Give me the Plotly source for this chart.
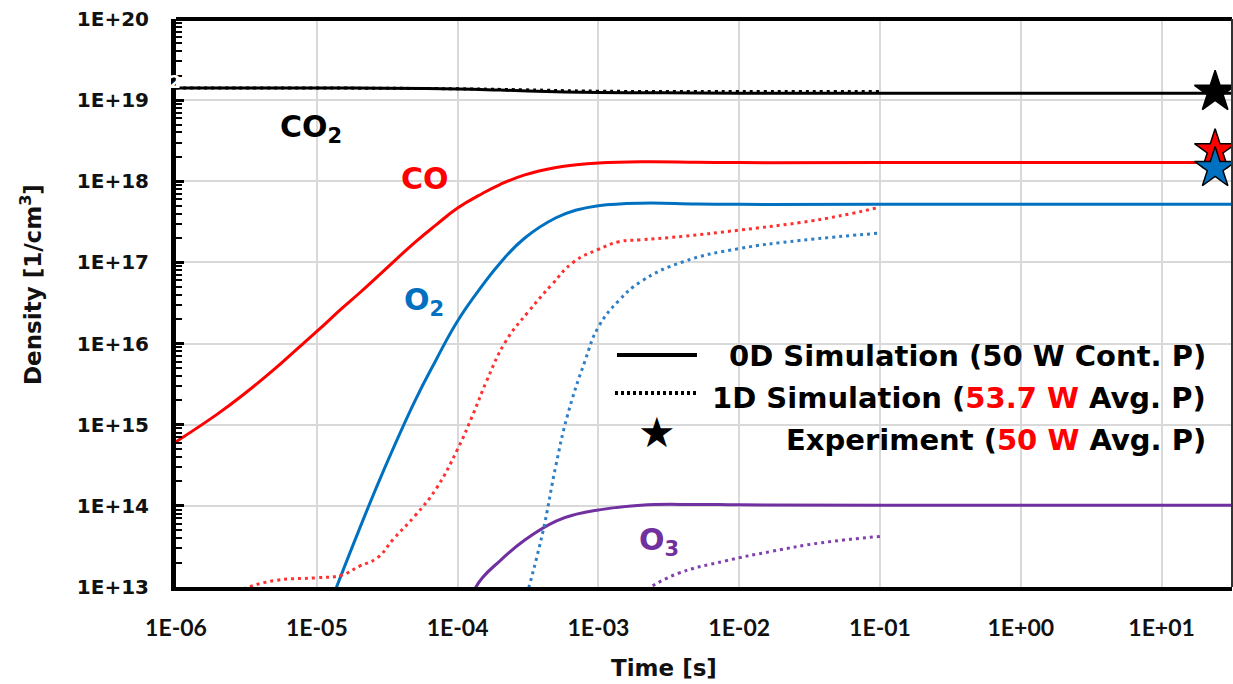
import plotly.graph_objects as go

# ---------------- data ----------------
# 0D simulation (solid)
t_co2_0d = [1e-6, 1e-5, 3e-5, 1e-4, 2e-4, 5e-4, 1e-3, 3e-3, 1e-2, 1e-1, 1, 10, 32]
co2_0d = [1.41e19, 1.41e19, 1.40e19, 1.37e19, 1.33e19, 1.27e19, 1.24e19, 1.23e19, 1.22e19, 1.22e19, 1.22e19, 1.22e19, 1.22e19]

t_co_0d = [1e-6, 2e-6, 3e-6, 5e-6, 7e-6, 1e-5, 1.5e-5, 2e-5, 3e-5, 5e-5, 7e-5, 1e-4, 1.5e-4, 2e-4, 3e-4,
           5e-4, 7e-4, 1e-3, 2e-3, 5e-3, 1e-2, 1e-1, 1, 10, 32]
co_0d = [6.17e14, 1.38e15, 2.34e15, 4.84e15, 8.13e15, 1.41e16, 2.69e16, 4.17e16, 7.94e16, 1.78e17, 2.88e17, 4.68e17,
         7.08e17, 9.12e17, 1.20e18, 1.48e18, 1.60e18, 1.68e18, 1.74e18, 1.72e18, 1.70e18, 1.70e18, 1.70e18,
         1.70e18, 1.70e18]

t_o2_0d = [1.3e-5, 2e-5, 3e-5, 5e-5, 7e-5, 1e-4, 1.5e-4, 2e-4, 3e-4, 5e-4, 7e-4, 1e-3, 2e-3, 5e-3, 1e-2,
           1e-1, 1, 10, 32]
o2_0d = [7.6e12, 5.1e13, 2.8e14, 2.0e15, 6.2e15, 1.9e16, 5.2e16, 9.8e16, 2.0e17, 3.55e17, 4.42e17, 5.0e17,
         5.37e17, 5.25e17, 5.2e17, 5.2e17, 5.2e17, 5.2e17, 5.2e17]

t_o3_0d = [1.3e-4, 1.5e-4, 2e-4, 3e-4, 5e-4, 7e-4, 1e-3, 2e-3, 5e-3, 1e-2, 1e-1, 1, 10, 32]
o3_0d = [8.9e12, 1.3e13, 2.1e13, 3.8e13, 6.5e13, 7.9e13, 8.9e13, 1.02e14, 1.04e14, 1.03e14, 1.02e14, 1.02e14,
         1.02e14, 1.02e14]

# 1D simulation (dotted)
t_co2_1d = [1e-6, 1e-5, 1e-4, 3e-4, 1e-3, 1e-2, 1e-1]
co2_1d = [1.41e19, 1.41e19, 1.38e19, 1.34e19, 1.29e19, 1.28e19, 1.28e19]

t_co_1d = [3e-6, 5e-6, 1e-5, 1.5e-5, 2e-5, 2.7e-5, 3.5e-5, 5e-5, 7e-5, 1e-4, 1.3e-4, 1.6e-4, 2.2e-4, 3.2e-4,
           4.7e-4, 6.6e-4, 1e-3, 1.4e-3, 2e-3, 4e-3, 1e-2, 2.7e-2, 5e-2, 1e-1]
co_1d = [9.5e12, 1.2e13, 1.3e13, 1.4e13, 1.8e13, 2.3e13, 3.9e13, 7.6e13, 1.6e14, 5.0e14, 1.4e15, 3.4e15, 1.07e16,
         2.5e16, 5.4e16, 1.0e17, 1.45e17, 1.8e17, 1.9e17, 2.1e17, 2.5e17, 3.1e17, 3.7e17, 4.8e17]

t_o2_1d = [3.1e-4, 4e-4, 5e-4, 6e-4, 8e-4, 1e-3, 1.4e-3, 2e-3, 4e-3, 1e-2, 2.7e-2, 1e-1]
o2_1d = [8e12, 4.5e13, 3.2e14, 1.26e15, 6e15, 1.6e16, 3.4e16, 5.8e16, 1.02e17, 1.48e17, 1.86e17, 2.3e17]

t_o3_1d = [2.2e-3, 3.6e-3, 8e-3, 1.7e-2, 3.8e-2, 1e-1]
o3_1d = [9.3e12, 1.45e13, 2.1e13, 2.75e13, 3.5e13, 4.2e13]

# Experiment (stars)
t_exp = [24, 24, 24]
exp_vals = [1.26e19, 2.4e18, 1.45e18]
exp_colors = ["#000000", "#FF0000", "#0070C0"]

# axis ticks
x_tickvals = [1e-6, 1e-5, 1e-4, 1e-3, 1e-2, 1e-1, 1, 10]
x_ticktext = ["1E-06", "1E-05", "1E-04", "1E-03", "1E-02", "1E-01", "1E+00", "1E+01"]
y_tickvals = [1e13, 1e14, 1e15, 1e16, 1e17, 1e18, 1e19, 1e20]
y_ticktext = ["1E+13", "1E+14", "1E+15", "1E+16", "1E+17", "1E+18", "1E+19", "1E+20"]

# ---------------- styling ----------------
C_CO2 = "#000000"
C_CO = "#FF0000"
C_O2 = "#0070C0"
C_O3 = "#7030A0"

W, H = 1233, 684
L, R, T, B = 176, 1, 19, 97
PW, PH = W - L - R, H - T - B


def px(xpix):
    return (xpix - L) / PW


def py(ypix):
    return (H - B - ypix) / PH


fig = go.Figure()


def add_line(t, v, color, dotted=False):
    fig.add_trace(go.Scatter(
        x=t, y=v, mode="lines",
        line=dict(color=color, width=3, dash="3px,4px" if dotted else "solid",
                  shape="spline", smoothing=1.3),
        showlegend=False, hoverinfo="skip"))


add_line(t_co2_0d, co2_0d, C_CO2)
add_line(t_co_0d, co_0d, C_CO)
add_line(t_o2_0d, o2_0d, C_O2)
add_line(t_o3_0d, o3_0d, C_O3)
add_line(t_co2_1d, co2_1d, C_CO2, True)
add_line(t_co_1d, co_1d, "#FF3030", True)
add_line(t_o2_1d, o2_1d, "#2E7FC6", True)
add_line(t_o3_1d, o3_1d, "#8040B0", True)

fig.add_trace(go.Scatter(
    x=t_exp, y=exp_vals, mode="markers",
    marker=dict(symbol="star", size=31, color=exp_colors, line=dict(color="black", width=1.5)),
    showlegend=False, hoverinfo="skip", cliponaxis=False))

label_font = "DejaVu Sans"

# species labels
species = [
    ("CO<sub>2</sub>", C_CO2, 278, 128),
    ("CO", C_CO, 399, 179),
    ("O<sub>2</sub>", C_O2, 402, 301),
    ("O<sub>3</sub>", C_O3, 637, 541),
]
for txt, col, xx, yy in species:
    fig.add_annotation(x=px(xx), y=py(yy), xref="paper", yref="paper", text=txt, showarrow=False,
                       xanchor="left", yanchor="middle",
                       font=dict(family=label_font, size=30, color=col, weight="bold"))

# white artefact "2" on the left axis
fig.add_annotation(x=px(175), y=py(82), xref="paper", yref="paper", text="2", showarrow=False,
                   xanchor="center", yanchor="middle",
                   font=dict(family=label_font, size=17, color="white", weight="bold"))

# legend (custom)
leg_rows = [
    ("0D Simulation (50 W Cont. P)", 356),
    ("1D Simulation (<span style='color:#FF0000'>53.7 W</span> Avg. P)", 398),
    ("Experiment (<span style='color:#FF0000'>50 W</span> Avg. P)", 440),
]
for txt, yy in leg_rows:
    fig.add_annotation(x=px(1208), y=py(yy), xref="paper", yref="paper", text=txt, showarrow=False,
                       xanchor="right", yanchor="middle",
                       font=dict(family=label_font, size=29, color="black", weight="bold"))

fig.add_shape(type="line", xref="paper", yref="paper", x0=px(617), x1=px(697), y0=py(355), y1=py(355),
              line=dict(color="black", width=4))
fig.add_shape(type="line", xref="paper", yref="paper", x0=px(615), x1=px(697), y0=py(393), y1=py(393),
              line=dict(color="black", width=4, dash="3px,3px"))
fig.add_annotation(x=px(657), y=py(432), xref="paper", yref="paper", text="★", showarrow=False,
                   xanchor="center", yanchor="middle",
                   font=dict(family="DejaVu Sans", size=42, color="black"))

# frame: thick top, thin right
fig.add_shape(type="line", xref="paper", yref="paper", x0=0, x1=1, y0=1, y1=1,
              line=dict(color="black", width=4))
fig.add_shape(type="line", xref="paper", yref="paper", x0=1, x1=1, y0=0, y1=1,
              line=dict(color="#333333", width=2))

# axis titles
fig.add_annotation(x=px(664), y=py(668), xref="paper", yref="paper", text="Time [s]", showarrow=False,
                   xanchor="center", yanchor="middle",
                   font=dict(family="DejaVu Sans", size=23, color="#111111", weight="bold"))
fig.add_annotation(x=px(31), y=py(285), xref="paper", yref="paper", text="Density [1/cm<sup>3</sup>]",
                   showarrow=False, textangle=-90, xanchor="center", yanchor="middle",
                   font=dict(family="DejaVu Sans", size=23, color="#111111", weight="bold"))

fig.update_xaxes(
    type="log", range=[-6, 1.5],
    tickmode="array", tickvals=x_tickvals, ticktext=x_ticktext,
    showgrid=True, gridcolor="#D9D9D9", gridwidth=1.5,
    showline=True, linecolor="black", linewidth=4,
    ticks="", ticklabelstandoff=17,
    tickfont=dict(family="Lato", size=23, color="#111111", weight="bold"),
    zeroline=False,
)
fig.update_yaxes(
    type="log", range=[13, 20],
    tickmode="array", tickvals=y_tickvals, ticktext=y_ticktext,
    showgrid=True, gridcolor="#D9D9D9", gridwidth=1.5,
    showline=True, linecolor="black", linewidth=5,
    ticks="inside", ticklen=8, tickwidth=3, tickcolor="black",
    minor=dict(ticks="inside", ticklen=6, tickwidth=2, tickcolor="black", dtick="D1", showgrid=False),
    ticklabelstandoff=18,
    tickfont=dict(family="DejaVu Sans", size=20, color="#111111", weight="bold"),
    zeroline=False,
)

fig.update_layout(
    width=W, height=H,
    margin=dict(l=L, r=R, t=T, b=B),
    paper_bgcolor="white", plot_bgcolor="white",
    showlegend=False,
)

fig.write_html(
    "out.html",
    config={"displayModeBar": False},
    post_script="document.body.style.margin='0';document.body.style.padding='0';"
                "document.body.style.overflow='hidden';",
)
